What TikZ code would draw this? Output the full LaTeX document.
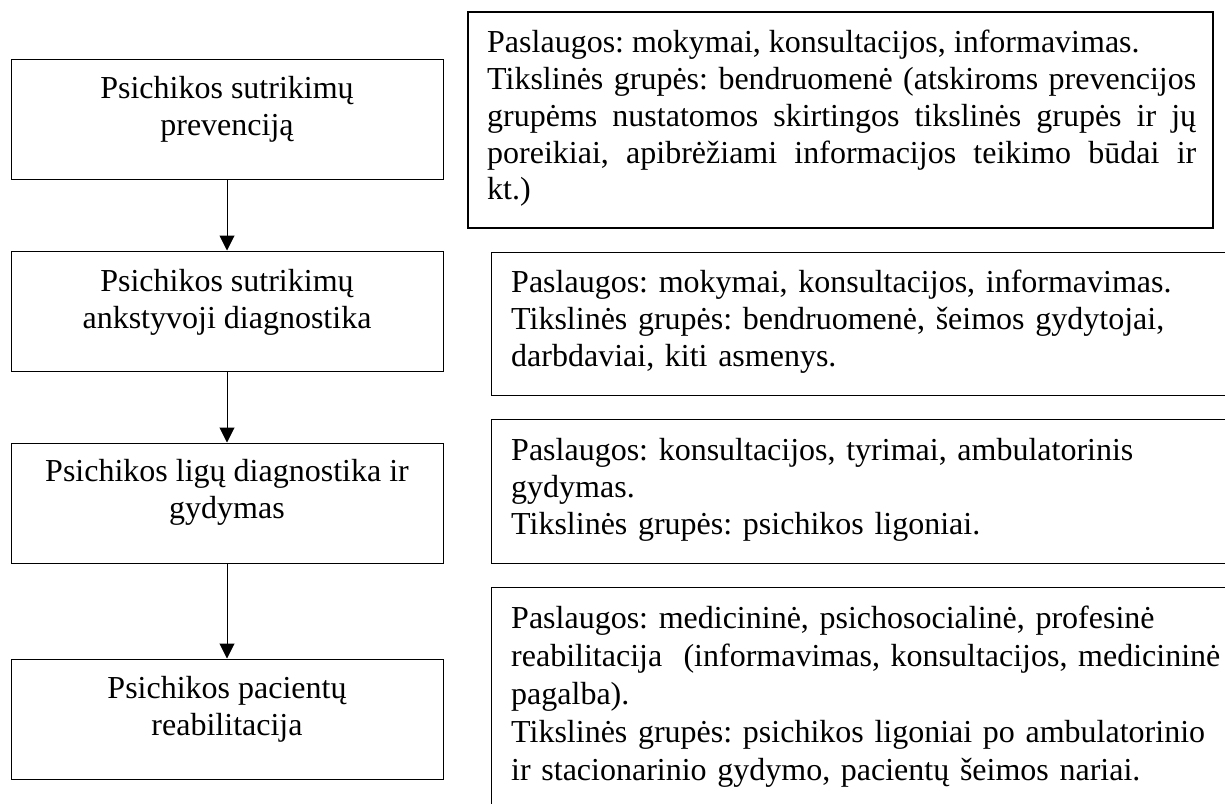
\documentclass[tikz,border=0pt]{standalone}
\usepackage{fontspec}
\setmainfont{Liberation Serif}
\usetikzlibrary{positioning,arrows.meta}
\setlength{\parindent}{0pt}
\hyphenpenalty=10000
\frenchspacing

\begin{document}
\begin{tikzpicture}[x=1pt, y=-1pt,
  stage/.style={draw, line width=1pt, minimum width=432pt, minimum height=120pt, inner sep=0pt},
  stagetext/.style={align=center, inner sep=0pt, font=\fontsize{32}{37}\selectfont},
  service/.style={draw, line width=1.3pt, anchor=north west, minimum width=750pt, inner sep=0pt},
  servicetext/.style={anchor=north west, align=left, text width=725pt, inner sep=0pt, font=\fontsize{32}{36.8}\selectfont},
  flow/.style={-{Triangle[width=15pt,length=15pt]}, line width=1pt}]

\useasboundingbox (0,0) rectangle (1225,803);
\clip (0,0) rectangle (1225,803);

% -------- stages -----------
\node[stage] (prev) at (227,119) {};
\node[stage] (early) at (227,311) {};
\node[stage] (diag) at (227,503) {};
\node[stage] (rehab) at (227,719) {};

\node[stagetext, below=18pt of prev.north] (prevtext) {Psichikos sutrikimų\\prevenciją};
\node[stagetext, below=19pt of early.north] (earlytext) {Psichikos sutrikimų\\ankstyvoji diagnostika};
\node[stagetext, below=17pt of diag.north] (diagtext) {Psichikos ligų diagnostika ir\\gydymas};
\node[stagetext, below=18pt of rehab.north] (rehabtext) {Psichikos pacientų\\reabilitacija};

\draw[flow] (prev) -- (early);
\draw[flow] (early) -- (diag);
\draw[flow] (diag) -- (rehab);

% -------- services -----------
\node[service, line width=2pt, minimum width=745pt, minimum height=216pt] (previnfo) at (467,11) {};
\node[service, minimum height=143pt] (earlyinfo) at (491,252) {};
\node[service, minimum height=144pt] (diaginfo) at (491,419) {};
\node[service, minimum height=240pt] (rehabinfo) at (491,587) {};

\node[servicetext, align=justify, text width=709pt, below right=19pt and 20pt of previnfo.north west] (previnfotext)
  {Paslaugos: mokymai, konsultacijos, informavimas.\\
   Tikslinės grupės: bendruomenė (atskiroms prevencijos\linebreak grupėms nustatomos skirtingos tikslinės grupės ir jų\linebreak poreikiai, apibrėžiami informacijos teikimo būdai ir\linebreak kt.)};
\node[servicetext, below right=18pt and 20pt of earlyinfo.north west] (earlyinfotext)
  {Paslaugos: mokymai, konsultacijos, informavimas.\\
   Tikslinės grupės: bendruomenė, šeimos gydytojai,\\
   darbdaviai, kiti asmenys.};
\node[servicetext, below right=19pt and 20pt of diaginfo.north west] (diaginfotext)
  {Paslaugos: konsultacijos, tyrimai, ambulatorinis\\
   gydymas.\\
   Tikslinės grupės: psichikos ligoniai.};
\node[servicetext, font=\fontsize{32}{38}\selectfont, below right=19pt and 20pt of rehabinfo.north west] (rehabinfotext)
  {Paslaugos: medicininė, psichosocialinė, profesinė\\
   reabilitacija~ (informavimas, konsultacijos, medicininė\\
   pagalba).\\
   Tikslinės grupės: psichikos ligoniai po ambulatorinio\\
   ir stacionarinio gydymo, pacientų šeimos nariai.};

\end{tikzpicture}
\end{document}
